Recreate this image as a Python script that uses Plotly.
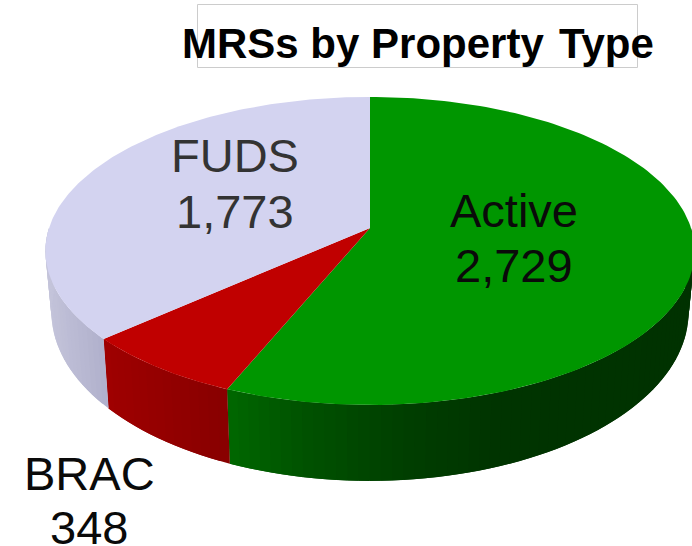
import numpy as np
import plotly.graph_objects as go

categories = ["Active", "BRAC", "FUDS"]
values = [2729, 348, 1773]
top_colors = ["#009600", "#C00000", "#D3D3F0"]
text_colors = ["#0a0a0a", "#0a0a0a", "#333333"]
# side shading: horizontal pixel stops and colours per slice
side_stops = {
    "Active": ([225, 300, 400, 500, 692], [(0, 106, 0), (0, 84, 0), (0, 64, 0), (0, 52, 0), (0, 50, 0)]),
    "BRAC": ([102, 230], [(160, 0, 0), (136, 0, 0)]),
    "FUDS": ([45, 107], [(196, 196, 218), (176, 176, 204)]),
}
title_text = "MRSs by Property \u200aType"

W, H = 692, 546
CX = 370
K = 0.149


def project(theta, apex_y, a, b):
    x, y = np.sin(theta), np.cos(theta)
    d = 1 + K * y
    return CX + a * x / d, apex_y - b * y / d


def top(theta):
    return project(theta, 228, 321, 150.6)


def bottom(theta):
    return project(theta, 287, 315, 165)


fractions = np.array(values) / sum(values)
edges = np.concatenate([[0], np.cumsum(fractions)]) * 2 * np.pi

fig = go.Figure()


def poly(xs, ys, color):
    fig.add_trace(go.Scatter(x=xs, y=ys, mode="lines", fill="toself", fillcolor=color,
                             line=dict(color=color, width=0), hoverinfo="skip", showlegend=False))


# side wall, drawn as shaded strips that overlap the next strip so no seams show
for i, cat in enumerate(categories):
    lo, hi = max(edges[i], np.pi / 2), min(edges[i + 1], 3 * np.pi / 2)
    if lo >= hi:
        continue
    stops_x, stops_c = side_stops[cat]
    n = max(4, int((hi - lo) / 0.03))
    th = np.linspace(lo, hi, n + 1)
    for j in range(n):
        seg = np.linspace(th[j], th[min(j + 2, n)], 5)
        tx, ty = top(seg)
        bx, by = bottom(seg)
        mx = float(top(th[j])[0])
        c = [int(round(np.interp(mx, stops_x, [s[k] for s in stops_c]))) for k in range(3)]
        poly(np.concatenate([tx, bx[::-1]]), np.concatenate([ty, by[::-1]]), f"rgb({c[0]},{c[1]},{c[2]})")

# top face slices
for i, cat in enumerate(categories):
    th = np.linspace(edges[i], edges[i + 1], 160)
    tx, ty = top(th)
    poly(np.concatenate([[CX], tx, [CX]]), np.concatenate([[228], ty, [228]]), top_colors[i])

label_pos = {"Active": (514, 210, 265), "BRAC": (89, 473, 527), "FUDS": (235, 155, 211)}
annotations = []
for i, cat in enumerate(categories):
    lx, ly1, ly2 = label_pos[cat]
    for txt, ly in ((cat, ly1), (f"{values[i]:,}", ly2)):
        annotations.append(dict(x=lx, y=ly, xref="x", yref="y", showarrow=False, text=txt,
                                font=dict(family="Liberation Sans", size=47, color=text_colors[i])))
annotations.append(dict(x=417.5, y=43, xref="x", yref="y", showarrow=False, text=f"<b>{title_text}</b>",
                        font=dict(family="Liberation Sans", size=42, color="#000000")))

fig.update_layout(
    width=W, height=H, autosize=False,
    margin=dict(l=0, r=0, t=0, b=0),
    paper_bgcolor="white", plot_bgcolor="white",
    xaxis=dict(range=[0, W], visible=False, fixedrange=True),
    yaxis=dict(range=[H, 0], visible=False, fixedrange=True),
    showlegend=False,
    annotations=annotations,
    shapes=[dict(type="rect", x0=197.5, x1=637.5, y0=4.5, y1=67.5, xref="x", yref="y",
                 line=dict(color="#CCCCCC", width=1), fillcolor="rgba(0,0,0,0)")],
)
fig.write_html("out.html", config=dict(displayModeBar=False),
               post_script="document.body.style.margin='0';document.documentElement.style.overflow='hidden';")
